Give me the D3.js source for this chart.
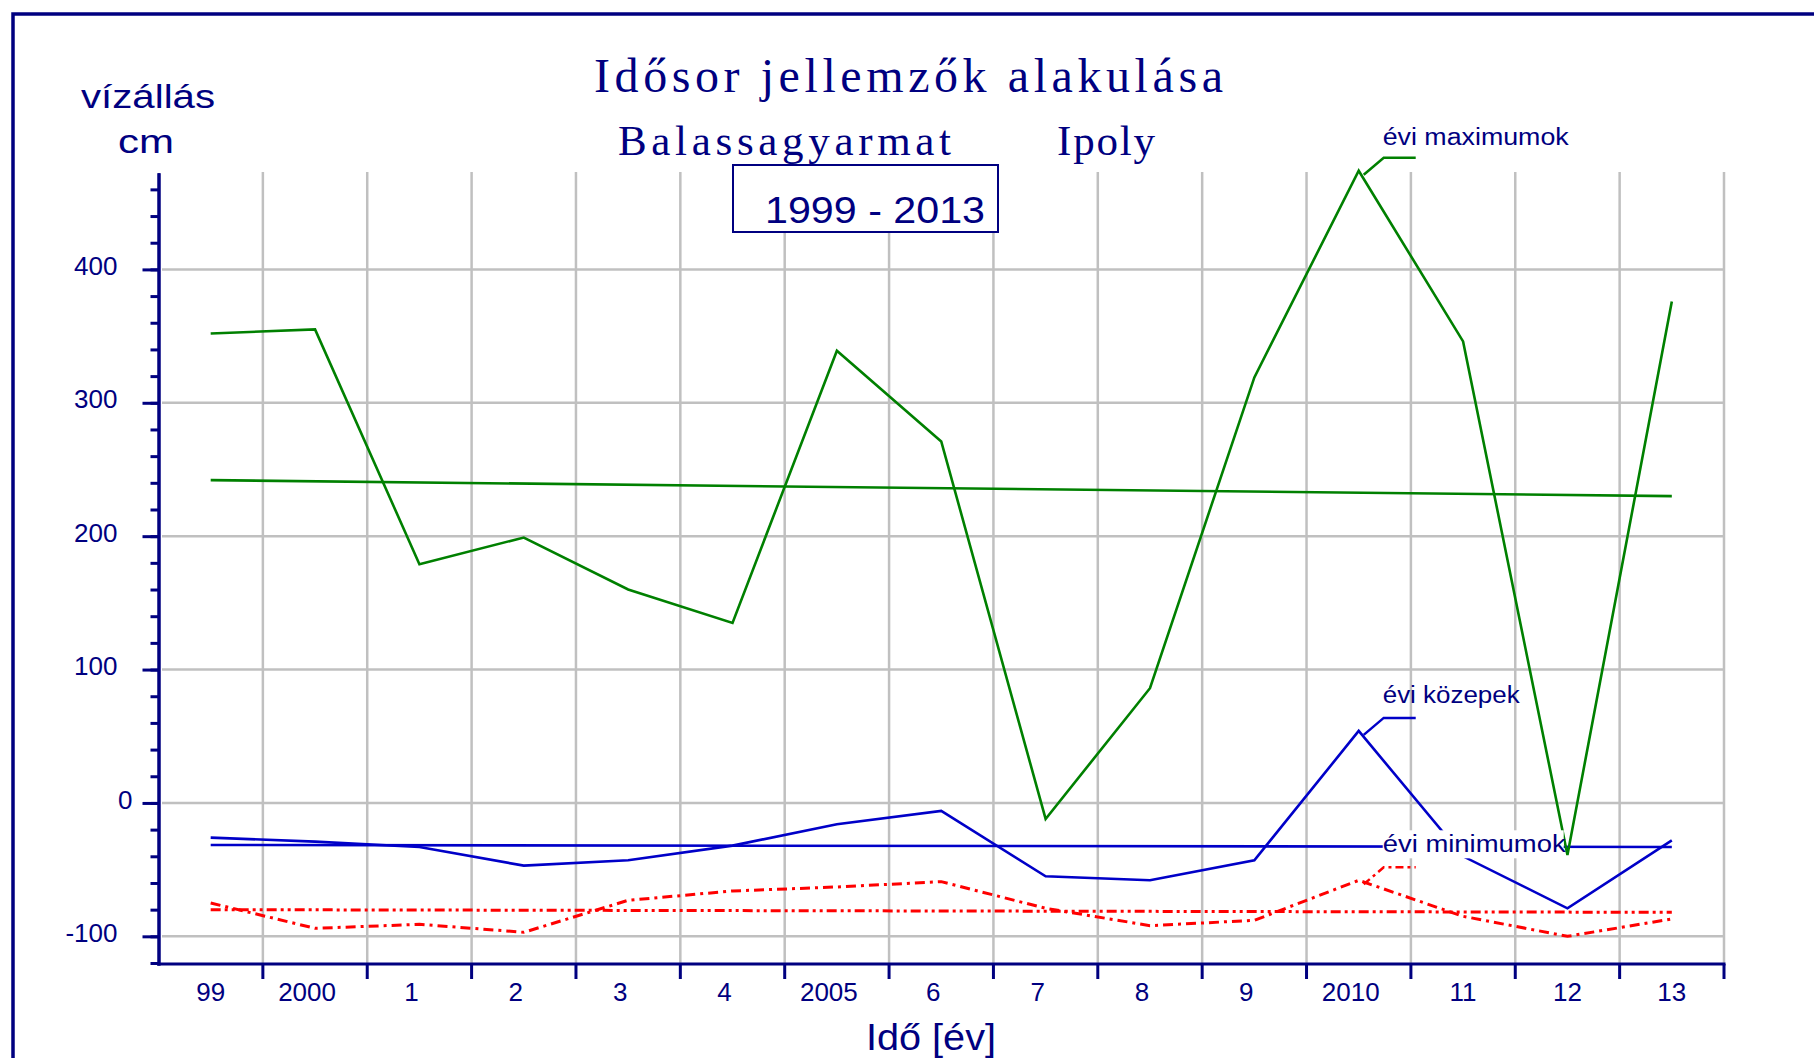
<!DOCTYPE html>
<html>
<head>
<meta charset="utf-8">
<script src="https://cdn.jsdelivr.net/npm/d3@7/dist/d3.min.js"></script>
<style>
  body { margin: 0; background: #fff; }
  svg { display: block; }
  .sans { font-family: "Liberation Sans", Arial, sans-serif; fill: #000080; }
  .serif { font-family: "Liberation Serif", "Times New Roman", serif; fill: #000080; }
</style>
</head>
<body>
<div id="chart"></div>
<script>
// years on the x axis (short labels as printed)
var years = ["99", "2000", "1", "2", "3", "4", "2005", "6", "7", "8", "9", "2010", "11", "12", "13"];
// yearly maxima, means, minima (cm)
var maxVals  = [352, 355, 179, 199, 160, 135, 339, 271, -12, 86, 319, 474, 346, -39, 376];
var meanVals = [-26, -29, -33, -47, -43, -32, -16, -6, -55, -58, -43, 54, -40, -79, -28];
var minVals  = [-75, -94, -91, -97, -73, -66, -63, -59, -79, -92, -88, -58, -85, -100, -87];
// trend lines, value at first and last year
var trendYears = ["99", "13"];
var maxTrend  = [242, 230];
var meanTrend = [-31.5, -33];
var minTrend  = [-80, -82];
var majorTicks = [-100, 0, 100, 200, 300, 400];
var minorTicks = d3.range(-120, 461, 20);

var navy = "#000080", grid = "#c0c0c0";

var svg = d3.select("#chart").append("svg")
  .attr("width", 1814).attr("height", 1058);

var x = d3.scaleBand().domain(years).range([158.5, 1724]).padding(0);
var y = d3.scaleLinear().domain([-121.5, 472.5]).range([965, 172.7]);
var cx = function (yr) { return x(yr) + x.bandwidth() / 2; };

// outer frame (top and left only)
svg.append("path")
  .attr("d", "M13,1058V14H1814")
  .attr("fill", "none").attr("stroke", navy).attr("stroke-width", 3.5);

// grid
var gridG = svg.append("g");
gridG.selectAll("line.v").data(years.slice(1).concat(["end"]))
  .enter().append("line")
  .attr("x1", function (d) { return d === "end" ? x.range()[1] : x(d); })
  .attr("x2", function (d) { return d === "end" ? x.range()[1] : x(d); })
  .attr("y1", 172).attr("y2", 964)
  .attr("stroke", grid).attr("stroke-width", 2.5);
gridG.selectAll("line.h").data(majorTicks)
  .enter().append("line")
  .attr("x1", 162).attr("x2", x.range()[1])
  .attr("y1", function (d) { return y(d); }).attr("y2", function (d) { return y(d); })
  .attr("stroke", grid).attr("stroke-width", 2.5);

// y axis
var yMinor = svg.append("g").attr("transform", "translate(158.5,0)")
  .call(d3.axisLeft(y).tickValues(minorTicks).tickSize(8).tickSizeOuter(0).tickFormat(""));
var yMajor = svg.append("g").attr("transform", "translate(158.5,0)")
  .call(d3.axisLeft(y).tickValues(majorTicks).tickSize(16).tickSizeOuter(0).tickPadding(25)
    .tickFormat(function (d) { return String(d); }));
[yMinor, yMajor].forEach(function (g) {
  g.selectAll("path, line").attr("stroke", navy).attr("stroke-width", 3);
});
yMajor.selectAll("text")
  .attr("class", "sans").attr("font-size", 26).attr("dy", "0.2em")
  .attr("x", function (d) { return d === 0 ? -26 : -41; })
  .style("fill", navy);

// x axis
var xG = svg.append("g");
xG.append("line")
  .attr("x1", 157).attr("x2", x.range()[1] + 1.5)
  .attr("y1", 964).attr("y2", 964)
  .attr("stroke", navy).attr("stroke-width", 3);
xG.selectAll("line.t").data(years.slice(1).concat(["end"]))
  .enter().append("line")
  .attr("x1", function (d) { return d === "end" ? x.range()[1] : x(d); })
  .attr("x2", function (d) { return d === "end" ? x.range()[1] : x(d); })
  .attr("y1", 964).attr("y2", 979)
  .attr("stroke", navy).attr("stroke-width", 3);
xG.selectAll("text").data(years)
  .enter().append("text")
  .attr("class", "sans").attr("font-size", 26)
  .attr("text-anchor", "middle")
  .attr("x", function (d) { return cx(d) - (d.length === 2 ? 0 : 8); })
  .attr("y", 1001)
  .text(function (d) { return d; });

// series
var line = d3.line()
  .x(function (d) { return cx(d[0]); })
  .y(function (d) { return y(d[1]); });
var zipY = function (vals, yrs) { return vals.map(function (v, i) { return [yrs[i], v]; }); };

var series = [
  { vals: maxTrend,  yrs: trendYears, color: "#008000", dash: null },
  { vals: meanTrend, yrs: trendYears, color: "#0000c8", dash: null },
  { vals: minTrend,  yrs: trendYears, color: "#ff0000", dash: "10,4,3,4,3,4" },
  { vals: minVals,   yrs: years,      color: "#ff0000", dash: "10,5,3,5" },
  { vals: meanVals,  yrs: years,      color: "#0000c8", dash: null },
  { vals: maxVals,   yrs: years,      color: "#008000", dash: null }
];
svg.append("g").selectAll("path").data(series)
  .enter().append("path")
  .attr("d", function (s) { return line(zipY(s.vals, s.yrs)); })
  .attr("fill", "none")
  .attr("stroke", function (s) { return s.color; })
  .attr("stroke-width", function (s) { return s.dash ? 3 : 2.6; })
  .attr("stroke-dasharray", function (s) { return s.dash; });

// labels with leader lines, anchored on the 2010 point of each series
var notes = [
  { text: "évi maximumok", val: maxVals[11],  color: "#008000", dash: null, len: 186, dy: -26, white: false },
  { text: "évi közepek",   val: meanVals[11], color: "#0000c8", dash: null, len: 137, dy: -28, white: false },
  { text: "évi minimumok", val: minVals[11],  color: "#ff0000", dash: "8,4,3,4", len: 183, dy: -28, white: true }
];
notes.forEach(function (n) {
  var px = cx("2010"), py = y(n.val);
  svg.append("path")
    .attr("d", "M" + (px + 5) + "," + (py + 4) + "L" + (px + 25) + "," + (py - 13) + "H" + (px + 57))
    .attr("fill", "none").attr("stroke", n.color).attr("stroke-width", 2.5)
    .attr("stroke-dasharray", n.dash);
  if (n.white) {
    svg.append("rect")
      .attr("x", px + 24).attr("y", py + n.dy - 22)
      .attr("width", n.len - 2).attr("height", 28)
      .attr("fill", "#fff");
  }
  svg.append("text")
    .attr("class", "sans").attr("font-size", 23)
    .attr("x", px + 24).attr("y", py + n.dy)
    .attr("textLength", n.len).attr("lengthAdjust", "spacingAndGlyphs")
    .text(n.text);
});

// titles
svg.append("text").attr("class", "serif").attr("font-size", 48)
  .attr("x", 594).attr("y", 92)
  .attr("textLength", 629).attr("lengthAdjust", "spacing")
  .text("Idősor jellemzők alakulása");
svg.append("text").attr("class", "serif").attr("font-size", 43)
  .attr("x", 618).attr("y", 155)
  .attr("textLength", 333).attr("lengthAdjust", "spacing")
  .text("Balassagyarmat");
svg.append("text").attr("class", "serif").attr("font-size", 43)
  .attr("x", 1057).attr("y", 155)
  .attr("textLength", 98).attr("lengthAdjust", "spacing")
  .text("Ipoly");

// period box
svg.append("rect")
  .attr("x", 733).attr("y", 165).attr("width", 265).attr("height", 67)
  .attr("fill", "#fff").attr("stroke", navy).attr("stroke-width", 2);
svg.append("text").attr("class", "sans").attr("font-size", 36)
  .attr("x", 765).attr("y", 223)
  .attr("textLength", 220).attr("lengthAdjust", "spacingAndGlyphs")
  .text("1999 - 2013");

// axis titles
svg.append("text").attr("class", "sans").attr("font-size", 34)
  .attr("x", 81).attr("y", 108)
  .attr("textLength", 134).attr("lengthAdjust", "spacingAndGlyphs")
  .text("vízállás");
svg.append("text").attr("class", "sans").attr("font-size", 34)
  .attr("x", 118).attr("y", 153)
  .attr("textLength", 56).attr("lengthAdjust", "spacingAndGlyphs")
  .text("cm");
svg.append("text").attr("class", "sans").attr("font-size", 36)
  .attr("x", 866).attr("y", 1050)
  .attr("textLength", 130).attr("lengthAdjust", "spacingAndGlyphs")
  .text("Idő [év]");
</script>
</body>
</html>
